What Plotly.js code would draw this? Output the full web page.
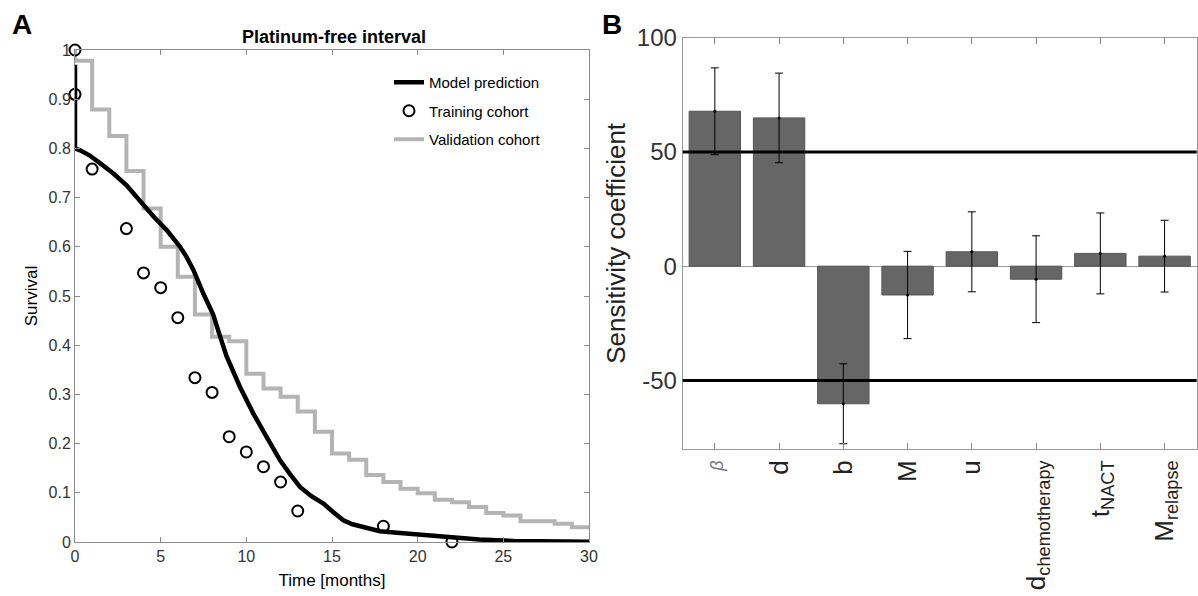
<!DOCTYPE html>
<html><head><meta charset="utf-8">
<script src="https://cdn.plot.ly/plotly-3.0.1.min.js"></script>
<style>html,body{margin:0;padding:0;background:#fff}#chart{width:1198px;height:596px}</style>
</head><body><div id="chart"></div>
<script>
// ---- Panel A data ----
const modelTime = [0, 0, 0.3, 0.84, 1.46, 2.24, 3.01, 3.79, 4.57, 5.35, 6.13, 6.5, 6.91, 7.49, 8.07, 8.4, 8.85, 9.63, 10.41, 11.19, 11.97, 12.55, 13.13, 13.8, 14.5, 15.1, 15.66, 16.2, 16.83, 17.8, 18.8, 19.75, 21.7, 23.6, 25.6, 27, 30];
const modelSurvival = [0.97, 0.80, 0.796, 0.786, 0.770, 0.749, 0.725, 0.692, 0.662, 0.634, 0.600, 0.580, 0.553, 0.505, 0.462, 0.425, 0.377, 0.315, 0.261, 0.213, 0.166, 0.138, 0.112, 0.093, 0.078, 0.060, 0.044, 0.036, 0.031, 0.022, 0.019, 0.016, 0.009, 0.005, 0.002, 0.001, 0.0005];
const trainingTime = [0, 0, 1, 3, 4, 5, 6, 7, 8, 9, 10, 11, 12, 13, 18, 22];
const trainingSurvival = [1.0, 0.91, 0.758, 0.637, 0.547, 0.517, 0.456, 0.334, 0.304, 0.214, 0.183, 0.153, 0.122, 0.063, 0.032, 0.0];
const validationTime = [0, 0, 1, 2, 3, 4, 5, 6, 7, 8, 9, 10, 11, 12, 13, 14, 15, 16, 17, 18, 19, 20, 21, 22, 23, 24, 25, 26, 28, 29, 30];
const validationSurvival = [1.0, 0.978, 0.879, 0.825, 0.754, 0.678, 0.600, 0.539, 0.4625, 0.417, 0.408, 0.342, 0.312, 0.295, 0.265, 0.224, 0.180, 0.167, 0.136, 0.122, 0.108, 0.099, 0.086, 0.081, 0.071, 0.059, 0.054, 0.042, 0.037, 0.030, 0.030];

// ---- Panel B data ----
const parameterKeys = ['beta', 'd', 'b', 'M', 'u', 'd_chemotherapy', 't_NACT', 'M_relapse'];
const parameterLabels = ['<span style="font-size:18px;color:#777"><i>β</i></span>', 'd', 'b', 'M', 'u', 'd<sub>chemotherapy</sub>', 't<sub>NACT</sub>', 'M<sub>relapse</sub>'];
const sensitivity = [67.8, 64.9, -60.2, -12.6, 6.3, -5.7, 5.6, 4.4];
const sensitivityError = [19.0, 19.6, 17.5, 19.1, 17.5, 19.0, 17.7, 15.7];
const thresholds = [50, -50];
const yTicksB = [-50, 0, 50, 100];
const yTickTextB = ['-50', '0', '50', '100'];

const FONT = 'Liberation Sans, Arial, Helvetica, sans-serif';
const W = 1198, H = 596;
const px = v => v / W, py = v => 1 - v / H;

const traces = [
  {x: validationTime, y: validationSurvival, type: 'scatter', mode: 'lines', name: 'Validation cohort',
   line: {color: '#b4b4b4', width: 4, shape: 'hv'}, xaxis: 'x', yaxis: 'y', legendgroup: 'c', legendrank: 3},
  {x: modelTime, y: modelSurvival, type: 'scatter', mode: 'lines', name: 'Model prediction',
   line: {color: '#000', width: 4.5}, xaxis: 'x', yaxis: 'y', legendgroup: 'a', legendrank: 1},
  {x: trainingTime, y: trainingSurvival, type: 'scatter', mode: 'markers', name: 'Training cohort',
   marker: {symbol: 'circle-open', size: 11, color: '#000', line: {width: 2, color: '#000'}},
   xaxis: 'x', yaxis: 'y', legendgroup: 'b', legendrank: 2, cliponaxis: false},
  {x: parameterKeys, y: sensitivity, type: 'bar', width: 0.8, showlegend: false,
   marker: {color: '#666666', line: {color: '#555555', width: 1}}, xaxis: 'x2', yaxis: 'y2'},
  {x: parameterKeys, y: sensitivity, type: 'scatter', mode: 'markers', showlegend: false,
   marker: {color: '#000', size: 3},
   error_y: {type: 'data', array: sensitivityError, visible: true, color: '#000', thickness: 1, width: 4},
   xaxis: 'x2', yaxis: 'y2'}
];

const shapes = thresholds.map(t => ({type: 'line', xref: 'x2 domain', yref: 'y2', x0: 0, x1: 1, y0: t, y1: t,
  line: {color: '#000', width: 3}, layer: 'above'}));

const layout = {
  width: W, height: H, margin: {l: 0, r: 0, t: 0, b: 0},
  paper_bgcolor: '#fff', plot_bgcolor: '#fff',
  font: {family: FONT, color: '#000'},
  showlegend: true,
  title: {text: '<b>Platinum-free interval</b>', font: {size: 18, family: FONT, color: '#000'},
          x: px(334), xanchor: 'center', y: py(37), yanchor: 'middle', xref: 'paper', yref: 'paper'},
  legend: {x: px(389), y: py(66), xanchor: 'left', yanchor: 'top', bgcolor: 'rgba(0,0,0,0)',
           font: {size: 15, family: FONT, color: '#000'}, traceorder: 'grouped', tracegroupgap: 6, itemwidth: 30},
  xaxis: {domain: [px(75), px(589)], range: [0, 30], dtick: 5, tick0: 0, anchor: 'y',
          showline: true, mirror: 'ticks', linecolor: '#8c8c8c', linewidth: 1, ticks: 'inside', ticklen: 5, tickcolor: '#8c8c8c',
          showgrid: false, zeroline: false, tickfont: {size: 16, color: '#333'},
          title: {text: 'Time [months]', font: {size: 17, color: '#000'}, standoff: 9}},
  yaxis: {domain: [1 - 542 / H, 1 - 50 / H], range: [0, 1], dtick: 0.1, tick0: 0, anchor: 'x',
          showline: true, mirror: 'ticks', linecolor: '#8c8c8c', linewidth: 1, ticks: 'inside', ticklen: 5, tickcolor: '#8c8c8c',
          showgrid: false, zeroline: false, tickfont: {size: 16, color: '#333'},
          title: {text: 'Survival', font: {size: 17, color: '#000'}, standoff: 6}},
  xaxis2: {domain: [px(682.7), px(1196.7)], range: [-0.5, 7.5], type: 'category', anchor: 'y2',
           tickvals: parameterKeys, ticktext: parameterLabels, tickangle: -90,
           showline: true, mirror: 'ticks', linecolor: '#999', linewidth: 1, ticks: 'inside', ticklen: 6, tickcolor: '#888',
           showgrid: false, tickfont: {size: 26, color: '#222'}},
  yaxis2: {domain: [1 - 449 / H, 1 - 37.7 / H], range: [-80, 100], anchor: 'x2',
           tickvals: yTicksB, ticktext: yTickTextB,
           showline: true, mirror: true, linecolor: '#999', linewidth: 1, ticks: '',
           showgrid: false, zeroline: true, zerolinecolor: '#999', zerolinewidth: 1,
           tickfont: {size: 24, color: '#333'},
           title: {text: 'Sensitivity coefficient', font: {size: 26, color: '#222'}, standoff: 3}},
  shapes: shapes,
  annotations: [
    {text: '<b>A</b>', x: px(22), y: py(25), xref: 'paper', yref: 'paper', showarrow: false,
     font: {size: 28, family: FONT, color: '#000'}, xanchor: 'center', yanchor: 'middle'},
    {text: '<b>B</b>', x: px(612), y: py(25), xref: 'paper', yref: 'paper', showarrow: false,
     font: {size: 28, family: FONT, color: '#000'}, xanchor: 'center', yanchor: 'middle'}
  ]
};

Plotly.newPlot('chart', traces, layout, {displayModeBar: false, responsive: false});
</script>
</body></html>
